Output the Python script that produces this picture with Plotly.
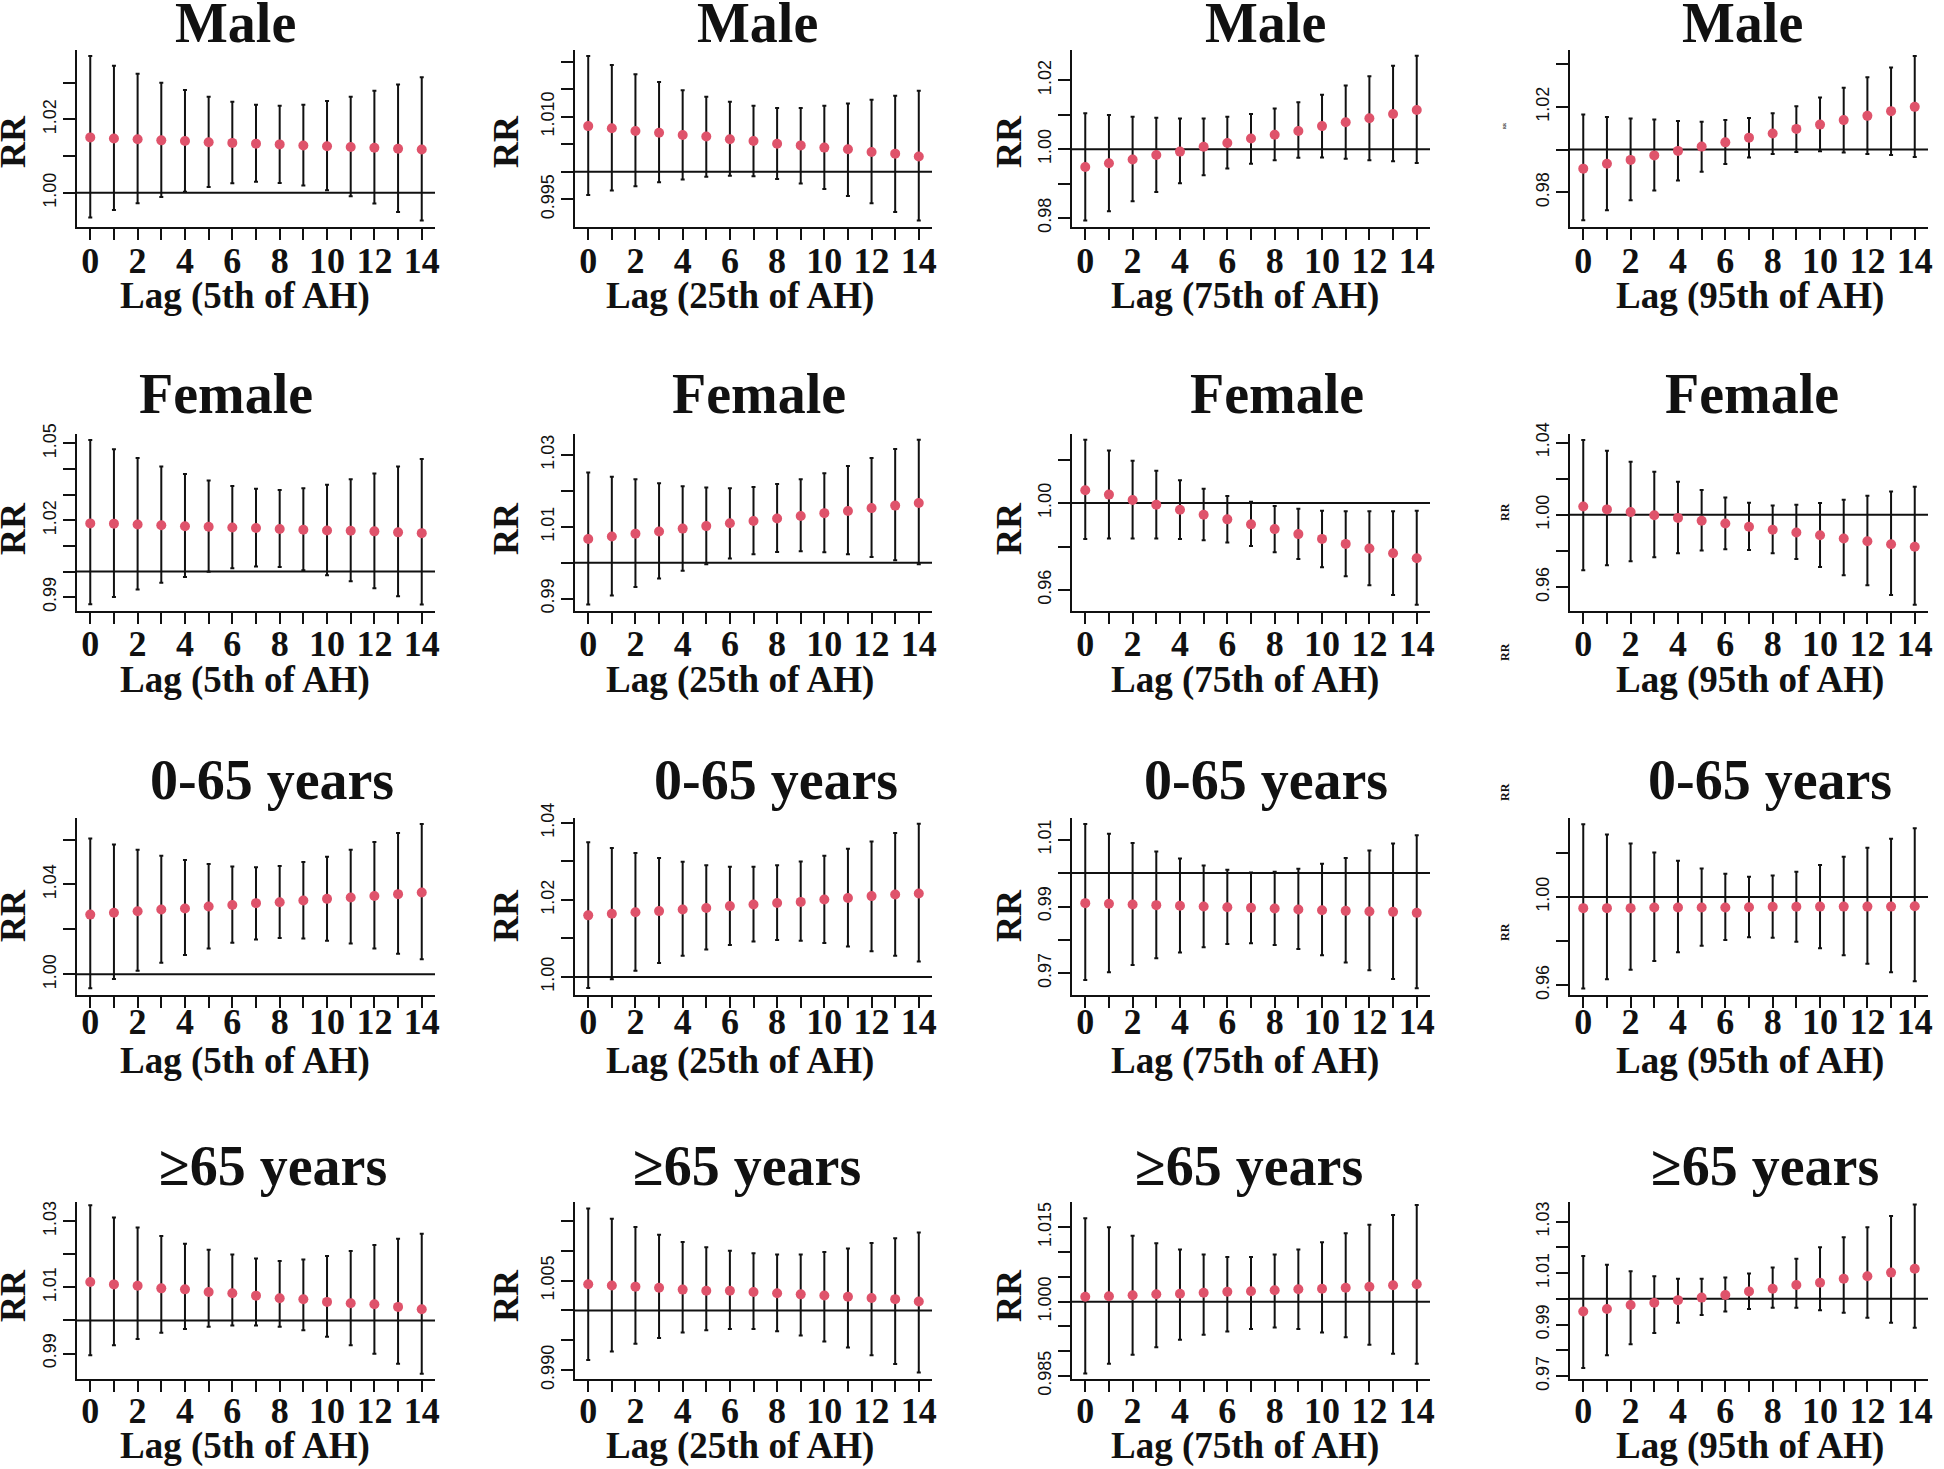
import plotly.graph_objects as go

lags = list(range(15))
lag_labels = [str(v) if v % 2 == 0 else "" for v in lags]

row_titles = ["Male", "Female", "0-65 years", "\u226565 years"]
col_xtitles = ["Lag (5th of AH)", "Lag (25th of AH)", "Lag (75th of AH)", "Lag (95th of AH)"]

# ---- Male ----
male_p5_rr = [1.0151,1.0148,1.0146,1.0143,1.0141,1.0138,1.0136,1.0134,1.0132,1.0129,1.0127,1.0125,1.0123,1.0120,1.0118]
male_p5_lo = [0.9933,0.9953,0.9972,0.9989,1.0003,1.0016,1.0026,1.0030,1.0027,1.0020,1.0007,0.9991,0.9971,0.9948,0.9925]
male_p5_hi = [1.0373,1.0346,1.0324,1.0300,1.0280,1.0262,1.0248,1.0240,1.0237,1.0240,1.0250,1.0262,1.0278,1.0295,1.0315]

male_p25_rr = [1.0083,1.0079,1.0074,1.0071,1.0067,1.0064,1.0059,1.0056,1.0051,1.0048,1.0044,1.0041,1.0036,1.0033,1.0028]
male_p25_lo = [0.9958,0.9966,0.9974,0.9981,0.9986,0.9991,0.9993,0.9992,0.9987,0.9979,0.9969,0.9956,0.9943,0.9927,0.9912]
male_p25_hi = [1.0210,1.0194,1.0177,1.0163,1.0148,1.0136,1.0127,1.0120,1.0116,1.0116,1.0120,1.0124,1.0131,1.0138,1.0147]

male_p75_rr = [0.9948,0.9959,0.9970,0.9983,0.9993,1.0007,1.0018,1.0031,1.0042,1.0053,1.0067,1.0078,1.0090,1.0102,1.0114]
male_p75_lo = [0.9793,0.9820,0.9849,0.9876,0.9901,0.9924,0.9944,0.9958,0.9968,0.9975,0.9976,0.9972,0.9968,0.9965,0.9960]
male_p75_hi = [1.0104,1.0099,1.0094,1.0091,1.0089,1.0089,1.0094,1.0102,1.0118,1.0136,1.0158,1.0185,1.0212,1.0242,1.0271]

male_p95_rr = [0.9911,0.9934,0.9952,0.9973,0.9994,1.0014,1.0034,1.0056,1.0075,1.0097,1.0117,1.0138,1.0158,1.0180,1.0200]
male_p95_lo = [0.9669,0.9716,0.9763,0.9809,0.9855,0.9897,0.9933,0.9963,0.9980,0.9989,0.9992,0.9986,0.9980,0.9975,0.9966]
male_p95_hi = [1.0164,1.0153,1.0145,1.0141,1.0134,1.0130,1.0138,1.0148,1.0170,1.0203,1.0244,1.0289,1.0338,1.0384,1.0438]

# ---- Female ----
female_p5_rr = [1.0188,1.0187,1.0184,1.0181,1.0177,1.0175,1.0172,1.0170,1.0166,1.0163,1.0160,1.0159,1.0157,1.0153,1.0150]
female_p5_lo = [0.9872,0.9901,0.9930,0.9956,0.9979,0.9999,1.0013,1.0020,1.0018,1.0005,0.9986,0.9962,0.9935,0.9904,0.9871]
female_p5_hi = [1.0514,1.0477,1.0443,1.0410,1.0381,1.0355,1.0334,1.0323,1.0318,1.0325,1.0339,1.0360,1.0383,1.0410,1.0439]

female_p25_rr = [1.0066,1.0073,1.0081,1.0087,1.0095,1.0102,1.0110,1.0116,1.0123,1.0130,1.0138,1.0144,1.0152,1.0159,1.0166]
female_p25_lo = [0.9884,0.9909,0.9933,0.9956,0.9978,0.9996,1.0012,1.0024,1.0030,1.0032,1.0029,1.0024,1.0016,1.0007,0.9996]
female_p25_hi = [1.0251,1.0239,1.0232,1.0221,1.0213,1.0209,1.0207,1.0211,1.0219,1.0232,1.0249,1.0269,1.0291,1.0316,1.0342]

female_p75_rr = [1.0059,1.0039,1.0014,0.9992,0.9969,0.9946,0.9925,0.9902,0.9880,0.9857,0.9835,0.9812,0.9791,0.9769,0.9746]
female_p75_lo = [0.9834,0.9837,0.9837,0.9837,0.9834,0.9829,0.9818,0.9802,0.9774,0.9742,0.9705,0.9663,0.9622,0.9577,0.9532]
female_p75_hi = [1.0291,1.0242,1.0195,1.0149,1.0105,1.0066,1.0032,1.0006,0.9986,0.9974,0.9965,0.9962,0.9962,0.9962,0.9965]

female_p95_rr = [1.0046,1.0030,1.0015,0.9998,0.9983,0.9967,0.9952,0.9934,0.9917,0.9902,0.9887,0.9869,0.9854,0.9837,0.9823]
female_p95_lo = [0.9693,0.9721,0.9743,0.9765,0.9788,0.9802,0.9810,0.9806,0.9788,0.9756,0.9712,0.9666,0.9610,0.9557,0.9503]
female_p95_hi = [1.0414,1.0355,1.0294,1.0238,1.0183,1.0137,1.0096,1.0067,1.0052,1.0055,1.0065,1.0083,1.0105,1.0129,1.0155]

# ---- 0-65 years ----
young_p5_rr = [1.0266,1.0274,1.0281,1.0289,1.0293,1.0302,1.0309,1.0317,1.0321,1.0329,1.0336,1.0342,1.0349,1.0357,1.0364]
young_p5_lo = [0.9938,0.9979,1.0016,1.0052,1.0086,1.0115,1.0141,1.0155,1.0162,1.0159,1.0150,1.0137,1.0115,1.0092,1.0067]
young_p5_hi = [1.0605,1.0578,1.0555,1.0528,1.0509,1.0491,1.0480,1.0477,1.0482,1.0500,1.0523,1.0555,1.0589,1.0629,1.0669]

young_p25_rr = [1.0160,1.0164,1.0168,1.0171,1.0175,1.0179,1.0184,1.0188,1.0192,1.0195,1.0201,1.0205,1.0210,1.0214,1.0217]
young_p25_lo = [0.9971,0.9994,1.0016,1.0036,1.0055,1.0071,1.0083,1.0092,1.0096,1.0094,1.0088,1.0079,1.0067,1.0055,1.0040]
young_p25_hi = [1.0350,1.0335,1.0322,1.0309,1.0299,1.0290,1.0286,1.0286,1.0290,1.0300,1.0315,1.0333,1.0352,1.0374,1.0398]

young_p75_rr = [0.9910,0.9908,0.9906,0.9904,0.9902,0.9900,0.9898,0.9896,0.9894,0.9891,0.9889,0.9887,0.9885,0.9884,0.9881]
young_p75_lo = [0.9680,0.9703,0.9725,0.9745,0.9762,0.9778,0.9788,0.9790,0.9785,0.9773,0.9754,0.9732,0.9709,0.9683,0.9655]
young_p75_hi = [1.0147,1.0118,1.0090,1.0065,1.0044,1.0023,1.0010,1.0002,1.0004,1.0013,1.0028,1.0045,1.0068,1.0089,1.0113]

young_p95_rr = [0.9949,0.9949,0.9949,0.9952,0.9952,0.9952,0.9952,0.9953,0.9955,0.9955,0.9956,0.9956,0.9956,0.9956,0.9958]
young_p95_lo = [0.9585,0.9626,0.9670,0.9709,0.9749,0.9779,0.9805,0.9817,0.9815,0.9797,0.9767,0.9735,0.9697,0.9658,0.9617]
young_p95_hi = [1.0330,1.0283,1.0242,1.0202,1.0164,1.0129,1.0105,1.0092,1.0097,1.0114,1.0145,1.0182,1.0223,1.0264,1.0311]

# ---- >=65 years ----
old_p5_rr = [1.0116,1.0109,1.0105,1.0097,1.0094,1.0086,1.0082,1.0075,1.0067,1.0064,1.0056,1.0052,1.0049,1.0041,1.0034]
old_p5_lo = [0.9895,0.9925,0.9944,0.9963,0.9974,0.9981,0.9985,0.9985,0.9981,0.9970,0.9951,0.9925,0.9899,0.9869,0.9839]
old_p5_hi = [1.0348,1.0311,1.0281,1.0255,1.0232,1.0214,1.0199,1.0187,1.0180,1.0184,1.0195,1.0210,1.0228,1.0247,1.0262]

old_p25_rr = [1.0044,1.0042,1.0040,1.0038,1.0035,1.0033,1.0033,1.0031,1.0029,1.0027,1.0025,1.0023,1.0021,1.0019,1.0015]
old_p25_lo = [0.9917,0.9931,0.9944,0.9954,0.9963,0.9967,0.9969,0.9969,0.9965,0.9958,0.9948,0.9938,0.9925,0.9910,0.9896]
old_p25_hi = [1.0171,1.0154,1.0140,1.0127,1.0115,1.0106,1.0100,1.0096,1.0094,1.0094,1.0098,1.0104,1.0113,1.0121,1.0131]

old_p75_rr = [1.0010,1.0011,1.0013,1.0015,1.0016,1.0018,1.0020,1.0021,1.0023,1.0025,1.0026,1.0028,1.0030,1.0033,1.0035]
old_p75_lo = [0.9855,0.9875,0.9893,0.9908,0.9923,0.9933,0.9940,0.9945,0.9948,0.9945,0.9938,0.9928,0.9913,0.9895,0.9875]
old_p75_hi = [1.0168,1.0150,1.0133,1.0118,1.0105,1.0095,1.0090,1.0090,1.0095,1.0105,1.0120,1.0138,1.0155,1.0175,1.0195]

old_p95_rr = [0.9951,0.9961,0.9976,0.9985,0.9995,1.0005,1.0015,1.0029,1.0039,1.0054,1.0063,1.0078,1.0088,1.0102,1.0117]
old_p95_lo = [0.9732,0.9781,0.9824,0.9868,0.9907,0.9937,0.9951,0.9961,0.9966,0.9966,0.9956,0.9946,0.9927,0.9907,0.9888]
old_p95_hi = [1.0166,1.0132,1.0107,1.0088,1.0078,1.0078,1.0083,1.0098,1.0122,1.0156,1.0200,1.0239,1.0278,1.0322,1.0366]

# ---- y-axis ranges and ticks per panel ----
y_ranges = [
    [0.9907, 1.0389], [0.9900, 1.0221], [0.9774, 1.0288], [0.9638, 1.0466],
    [0.9846, 1.0537], [0.9866, 1.0358], [0.9503, 1.0318], [0.9468, 1.0447],
    [0.9908, 1.0696], [0.9953, 1.0413], [0.9635, 1.0165], [0.9555, 1.0358],
    [0.9823, 1.0358], [0.9885, 1.0182], [0.9844, 1.0201], [0.9689, 1.0376],
]
y_tickvals = [
    [1.00, 1.01, 1.02, 1.03], [0.995, 1.000, 1.005, 1.010, 1.015, 1.020],
    [0.98, 0.99, 1.00, 1.01, 1.02], [0.98, 1.00, 1.02, 1.04],
    [0.99, 1.00, 1.01, 1.02, 1.03, 1.04, 1.05], [0.99, 1.00, 1.01, 1.02, 1.03],
    [0.96, 0.98, 1.00, 1.02], [0.96, 0.98, 1.00, 1.02, 1.04],
    [1.00, 1.02, 1.04, 1.06], [1.00, 1.01, 1.02, 1.03, 1.04],
    [0.97, 0.98, 0.99, 1.00, 1.01], [0.96, 0.98, 1.00, 1.02],
    [0.99, 1.00, 1.01, 1.02, 1.03], [0.990, 0.995, 1.000, 1.005, 1.010, 1.015],
    [0.985, 0.990, 0.995, 1.000, 1.005, 1.010, 1.015], [0.97, 0.98, 0.99, 1.00, 1.01, 1.02, 1.03],
]
y_ticktext = [
    ["1.00", "", "1.02", ""], ["0.995", "", "", "1.010", "", ""],
    ["0.98", "", "1.00", "", "1.02"], ["0.98", "", "1.02", ""],
    ["0.99", "", "", "1.02", "", "", "1.05"], ["0.99", "", "1.01", "", "1.03"],
    ["0.96", "", "1.00", ""], ["0.96", "", "1.00", "", "1.04"],
    ["1.00", "", "1.04", ""], ["1.00", "", "1.02", "", "1.04"],
    ["0.97", "", "0.99", "", "1.01"], ["0.96", "", "1.00", ""],
    ["0.99", "", "1.01", "", "1.03"], ["0.990", "", "", "1.005", "", ""],
    ["0.985", "", "", "1.000", "", "", "1.015"], ["0.97", "", "0.99", "", "1.01", "", "1.03"],
]

series = [
    (male_p5_rr, male_p5_lo, male_p5_hi), (male_p25_rr, male_p25_lo, male_p25_hi),
    (male_p75_rr, male_p75_lo, male_p75_hi), (male_p95_rr, male_p95_lo, male_p95_hi),
    (female_p5_rr, female_p5_lo, female_p5_hi), (female_p25_rr, female_p25_lo, female_p25_hi),
    (female_p75_rr, female_p75_lo, female_p75_hi), (female_p95_rr, female_p95_lo, female_p95_hi),
    (young_p5_rr, young_p5_lo, young_p5_hi), (young_p25_rr, young_p25_lo, young_p25_hi),
    (young_p75_rr, young_p75_lo, young_p75_hi), (young_p95_rr, young_p95_lo, young_p95_hi),
    (old_p5_rr, old_p5_lo, old_p5_hi), (old_p25_rr, old_p25_lo, old_p25_hi),
    (old_p75_rr, old_p75_lo, old_p75_hi), (old_p95_rr, old_p95_lo, old_p95_hi),
]

# ---- layout geometry (pixels) ----
W, H = 1944, 1469
col_left = [77, 575, 1072, 1570]
col_right = [435, 932, 1430, 1928]
row_top = [50, 434, 818, 1202]
row_bottom = [227, 611, 995, 1379]
title_x = [[235, 757, 1265, 1742], [226, 759, 1277, 1752], [272, 776, 1266, 1770], [273, 747, 1249, 1765]]
title_y = [23, 394, 780, 1166]
xtitle_x = [245, 740, 1245, 1750]
xtitle_y = [296, 680, 1061, 1446]
rr_x = [13, 506, 1009]
rr_y = [142, 529, 916, 1296]
tick_standoff = [-10, -11, -17, -12]

SERIF = "Liberation Serif, Times New Roman, serif"
SANS = "Liberation Sans, Arial, sans-serif"
PINK = "#DF536B"
INK = "#111111"

def px(x):
    return x / W

def py(y):
    return 1 - y / H

fig = go.Figure()
annotations = []
shapes = []

for i in range(16):
    r, c = divmod(i, 4)
    n = i + 1
    sx = "" if n == 1 else str(n)
    rr, lo, hi = series[i]
    fig.add_trace(go.Scatter(
        x=lags, y=rr, mode="markers",
        xaxis="x" + sx, yaxis="y" + sx,
        marker=dict(color=PINK, size=10, line=dict(width=0)),
        error_y=dict(type="data", symmetric=False,
                     array=[h - m for h, m in zip(hi, rr)],
                     arrayminus=[m - l for m, l in zip(rr, lo)],
                     color=INK, thickness=2, width=2),
        showlegend=False, hoverinfo="skip",
    ))
    fig.layout["xaxis" + sx] = dict(
        domain=[px(col_left[c]), px(col_right[c])], anchor="y" + sx,
        range=[-0.56, 14.56], tickvals=lags, ticktext=lag_labels,
        ticks="outside", ticklen=11, tickwidth=2, tickcolor=INK,
        showline=True, linewidth=2, linecolor=INK, mirror=False,
        showgrid=False, zeroline=False, automargin=False,
        ticklabelstandoff=tick_standoff[r],
        tickfont=dict(family=SERIF, size=36, color=INK, weight="bold"),
    )
    fig.layout["yaxis" + sx] = dict(
        domain=[py(row_bottom[r]), py(row_top[r])], anchor="x" + sx,
        range=y_ranges[i], tickvals=y_tickvals[i], ticktext=y_ticktext[i],
        ticks="outside", ticklen=12, tickwidth=2, tickcolor=INK, tickangle=-90,
        showline=True, linewidth=2, linecolor=INK, mirror=False,
        showgrid=False, zeroline=False, automargin=False,
        tickfont=dict(family=SANS, size=18, color=INK),
    )
    shapes.append(dict(type="line", xref="x" + sx + " domain", yref="y" + sx,
                       x0=0, x1=1, y0=1, y1=1, line=dict(color=INK, width=2), layer="below"))
    annotations.append(dict(text=row_titles[r], x=px(title_x[r][c]), y=py(title_y[r]),
                            xref="paper", yref="paper", showarrow=False,
                            xanchor="center", yanchor="middle",
                            font=dict(family=SERIF, size=56, color=INK, weight="bold")))
    annotations.append(dict(text=col_xtitles[c], x=px(xtitle_x[c]), y=py(xtitle_y[r]),
                            xref="paper", yref="paper", showarrow=False,
                            xanchor="center", yanchor="middle",
                            font=dict(family=SERIF, size=37, color=INK, weight="bold")))
    if c < 3:
        annotations.append(dict(text="RR", x=px(rr_x[c]), y=py(rr_y[r]),
                                xref="paper", yref="paper", showarrow=False, textangle=-90,
                                xanchor="center", yanchor="middle",
                                font=dict(family=SERIF, size=36, color=INK, weight="bold")))

# tiny stray "RR" labels in the last column
for yy, sz in [(126, 4), (512, 12), (652, 12), (792, 12), (932, 12)]:
    annotations.append(dict(text="RR", x=px(1505), y=py(yy), xref="paper", yref="paper",
                            showarrow=False, textangle=-90, xanchor="center", yanchor="middle",
                            font=dict(family=SERIF, size=sz, color=INK, weight="bold")))

fig.update_layout(
    width=W, height=H, margin=dict(l=0, r=0, t=0, b=0, autoexpand=False),
    paper_bgcolor="white", plot_bgcolor="white",
    annotations=annotations, shapes=shapes, showlegend=False,
)

fig.write_html("out.html", config={"displayModeBar": False},
               post_script="document.body.style.margin='0px';")
